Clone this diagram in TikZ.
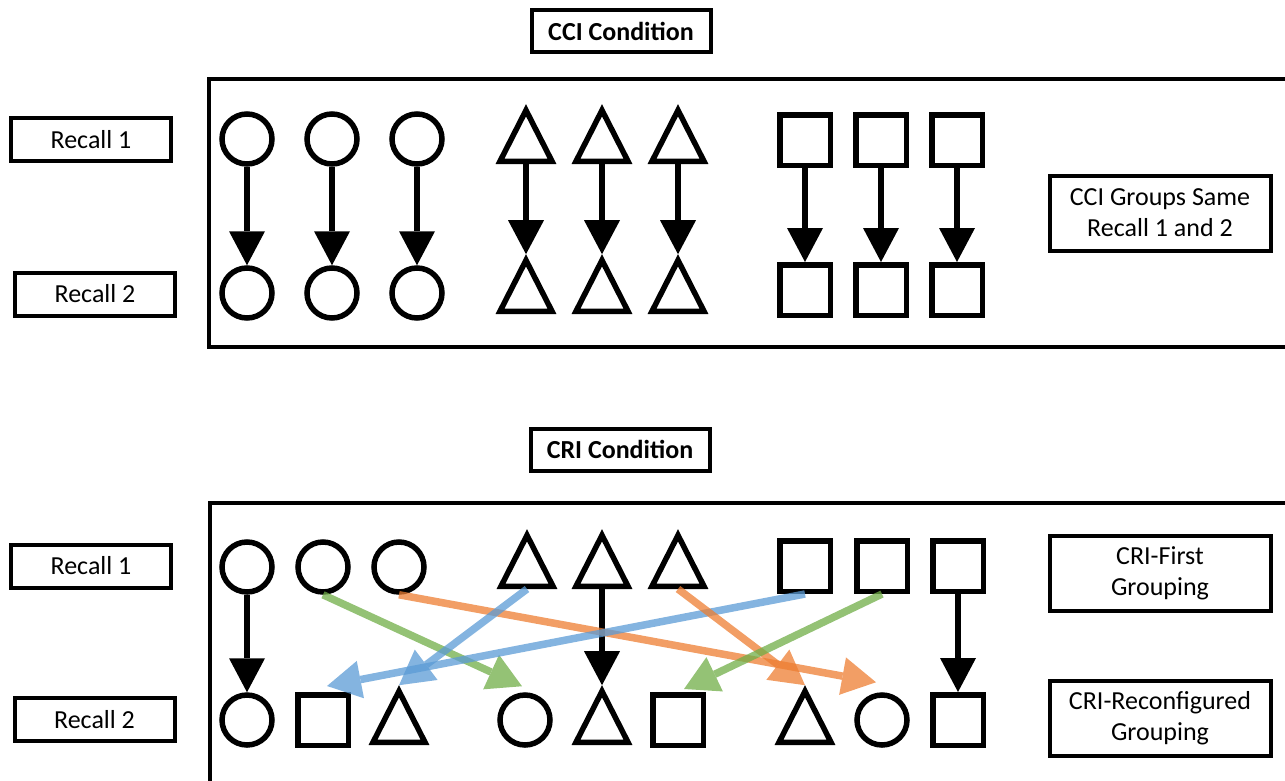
\documentclass[tikz,border=0pt]{standalone}
\usepackage{fontspec}
\setmainfont{Carlito}
\usetikzlibrary{arrows.meta,shapes.geometric}
\definecolor{cblue}{RGB}{91,155,213}
\definecolor{corange}{RGB}{237,125,49}
\definecolor{cgreen}{RGB}{112,173,71}
\begin{document}
\begin{tikzpicture}[x=1pt,y=-1pt,
 lbl/.style={draw, line width=4pt, inner sep=0pt, minimum width=160pt, minimum height=43pt, font=\fontsize{26}{31}\selectfont, align=center},
 big/.style={lbl, minimum width=221pt, minimum height=75pt},
 ttl/.style={lbl, minimum width=179pt, minimum height=42pt, font=\fontsize{26}{31}\selectfont\bfseries},
 circ/.style={draw, circle, line width=5.5pt, minimum size=50pt, inner sep=0pt},
 sq/.style={draw, rectangle, line width=5.5pt, minimum size=50.5pt, inner sep=0pt},
 tri/.style={draw, isosceles triangle, shape border rotate=90, isosceles triangle apex angle=54, line width=5.5pt, minimum height=51pt, minimum width=51pt, inner sep=0pt, anchor=lower side},
 blk/.style={line width=6pt, -{Triangle[width=36pt,length=34pt,line width=0pt]}},
 col/.style={line width=7.5pt, -{Triangle[width=38pt,length=34pt,line width=0pt]}},
 tg/.style={transparency group, opacity=0.75},
]
\useasboundingbox (0,0) rectangle (1285,780);

% ---------- CCI ----------
\node[ttl] (ccititle) at (621,31) {CCI Condition};
\draw[line width=3.5pt] (1295,79) -| (209,347) -- (1295,347);
\node[lbl] (r1a) at (91,139.5) {Recall 1};
\node[lbl] (r2a) at (95,294) {Recall 2};
\node[big] (ccigroups) at (1160,213) {CCI Groups Same\\Recall 1 and 2};

\node[circ] (ca1) at (247,139) {};
\node[circ] (ca2) at (332,139) {};
\node[circ] (ca3) at (417,139) {};
\node[circ] (cb1) at (247,293) {};
\node[circ] (cb2) at (332,293) {};
\node[circ] (cb3) at (417,293) {};

\node[tri] (ta1) at (526,164) {};
\node[tri] (ta2) at (602,164) {};
\node[tri] (ta3) at (678,164) {};
\node[tri] (tb1) at (526,314) {};
\node[tri] (tb2) at (602,314) {};
\node[tri] (tb3) at (678,314) {};

\node[sq] (sa1) at (805,140) {};
\node[sq] (sa2) at (881,140) {};
\node[sq] (sa3) at (957,140) {};
\node[sq] (sb1) at (805,290) {};
\node[sq] (sb2) at (881,290) {};
\node[sq] (sb3) at (957,290) {};

\foreach \i in {1,2,3}{
  \draw[blk] (ca\i.south) -- (cb\i.north);
  \draw[blk] (ta\i.lower side) -- (tb\i.apex);
  \draw[blk] (sa\i.south) -- (sb\i.north);
}

% ---------- CRI ----------
\node[ttl] (crititle) at (620,449.5) {CRI Condition};
\draw[line width=3.5pt] (1295,503) -| (210,795);
\node[lbl] (r1b) at (91,566) {Recall 1};
\node[lbl] (r2b) at (94.5,719.5) {Recall 2};
\node[big] (crifirst) at (1160,573) {CRI-First\\Grouping};
\node[big] (crireconf) at (1160,718.5) {CRI-Reconfigured\\Grouping};

% recall 1 row
\node[circ] (u1) at (247,567) {};
\node[circ] (u2) at (323,567) {};
\node[circ] (u3) at (399,567) {};
\node[tri]  (u4) at (527,589) {};
\node[tri]  (u5) at (602,589) {};
\node[tri]  (u6) at (678,589) {};
\node[sq]   (u7) at (805,566) {};
\node[sq]   (u8) at (882,566) {};
\node[sq]   (u9) at (958,566) {};

% recall 2 row
\node[circ] (v1) at (247,720) {};
\node[sq]   (v2) at (323,720) {};
\node[tri]  (v3) at (399,745) {};
\node[circ] (v4) at (525,720) {};
\node[tri]  (v5) at (602,745) {};
\node[sq]   (v6) at (678,720) {};
\node[tri]  (v7) at (805,745) {};
\node[circ] (v8) at (882,720) {};
\node[sq]   (v9) at (958,720) {};

\draw[blk] (u1.south) -- (v1.north);
\draw[blk] (u5.lower side) -- (v5.apex);
\draw[blk] (u9.south) -- (v9.north);

\begin{scope}[tg]\draw[col, cgreen]  (u2.south) -- ([shift={(-3,-6)}]v4.north);\end{scope}
\begin{scope}[tg]\draw[col, corange] (u3.south) -- ([shift={(-6,-10)}]v8.north);\end{scope}
\begin{scope}[tg]\draw[col, cblue]   (u4.lower side) -- (v3.apex);\end{scope}
\begin{scope}[tg]\draw[col, cblue]   (u7.south) -- ([shift={(4,-6)}]v2.north);\end{scope}
\begin{scope}[tg]\draw[col, corange] (u6.lower side) -- (v7.apex);\end{scope}
\begin{scope}[tg]\draw[col, cgreen]  (u8.south) -- ([shift={(6,-3)}]v6.north);\end{scope}
\end{tikzpicture}
\end{document}
